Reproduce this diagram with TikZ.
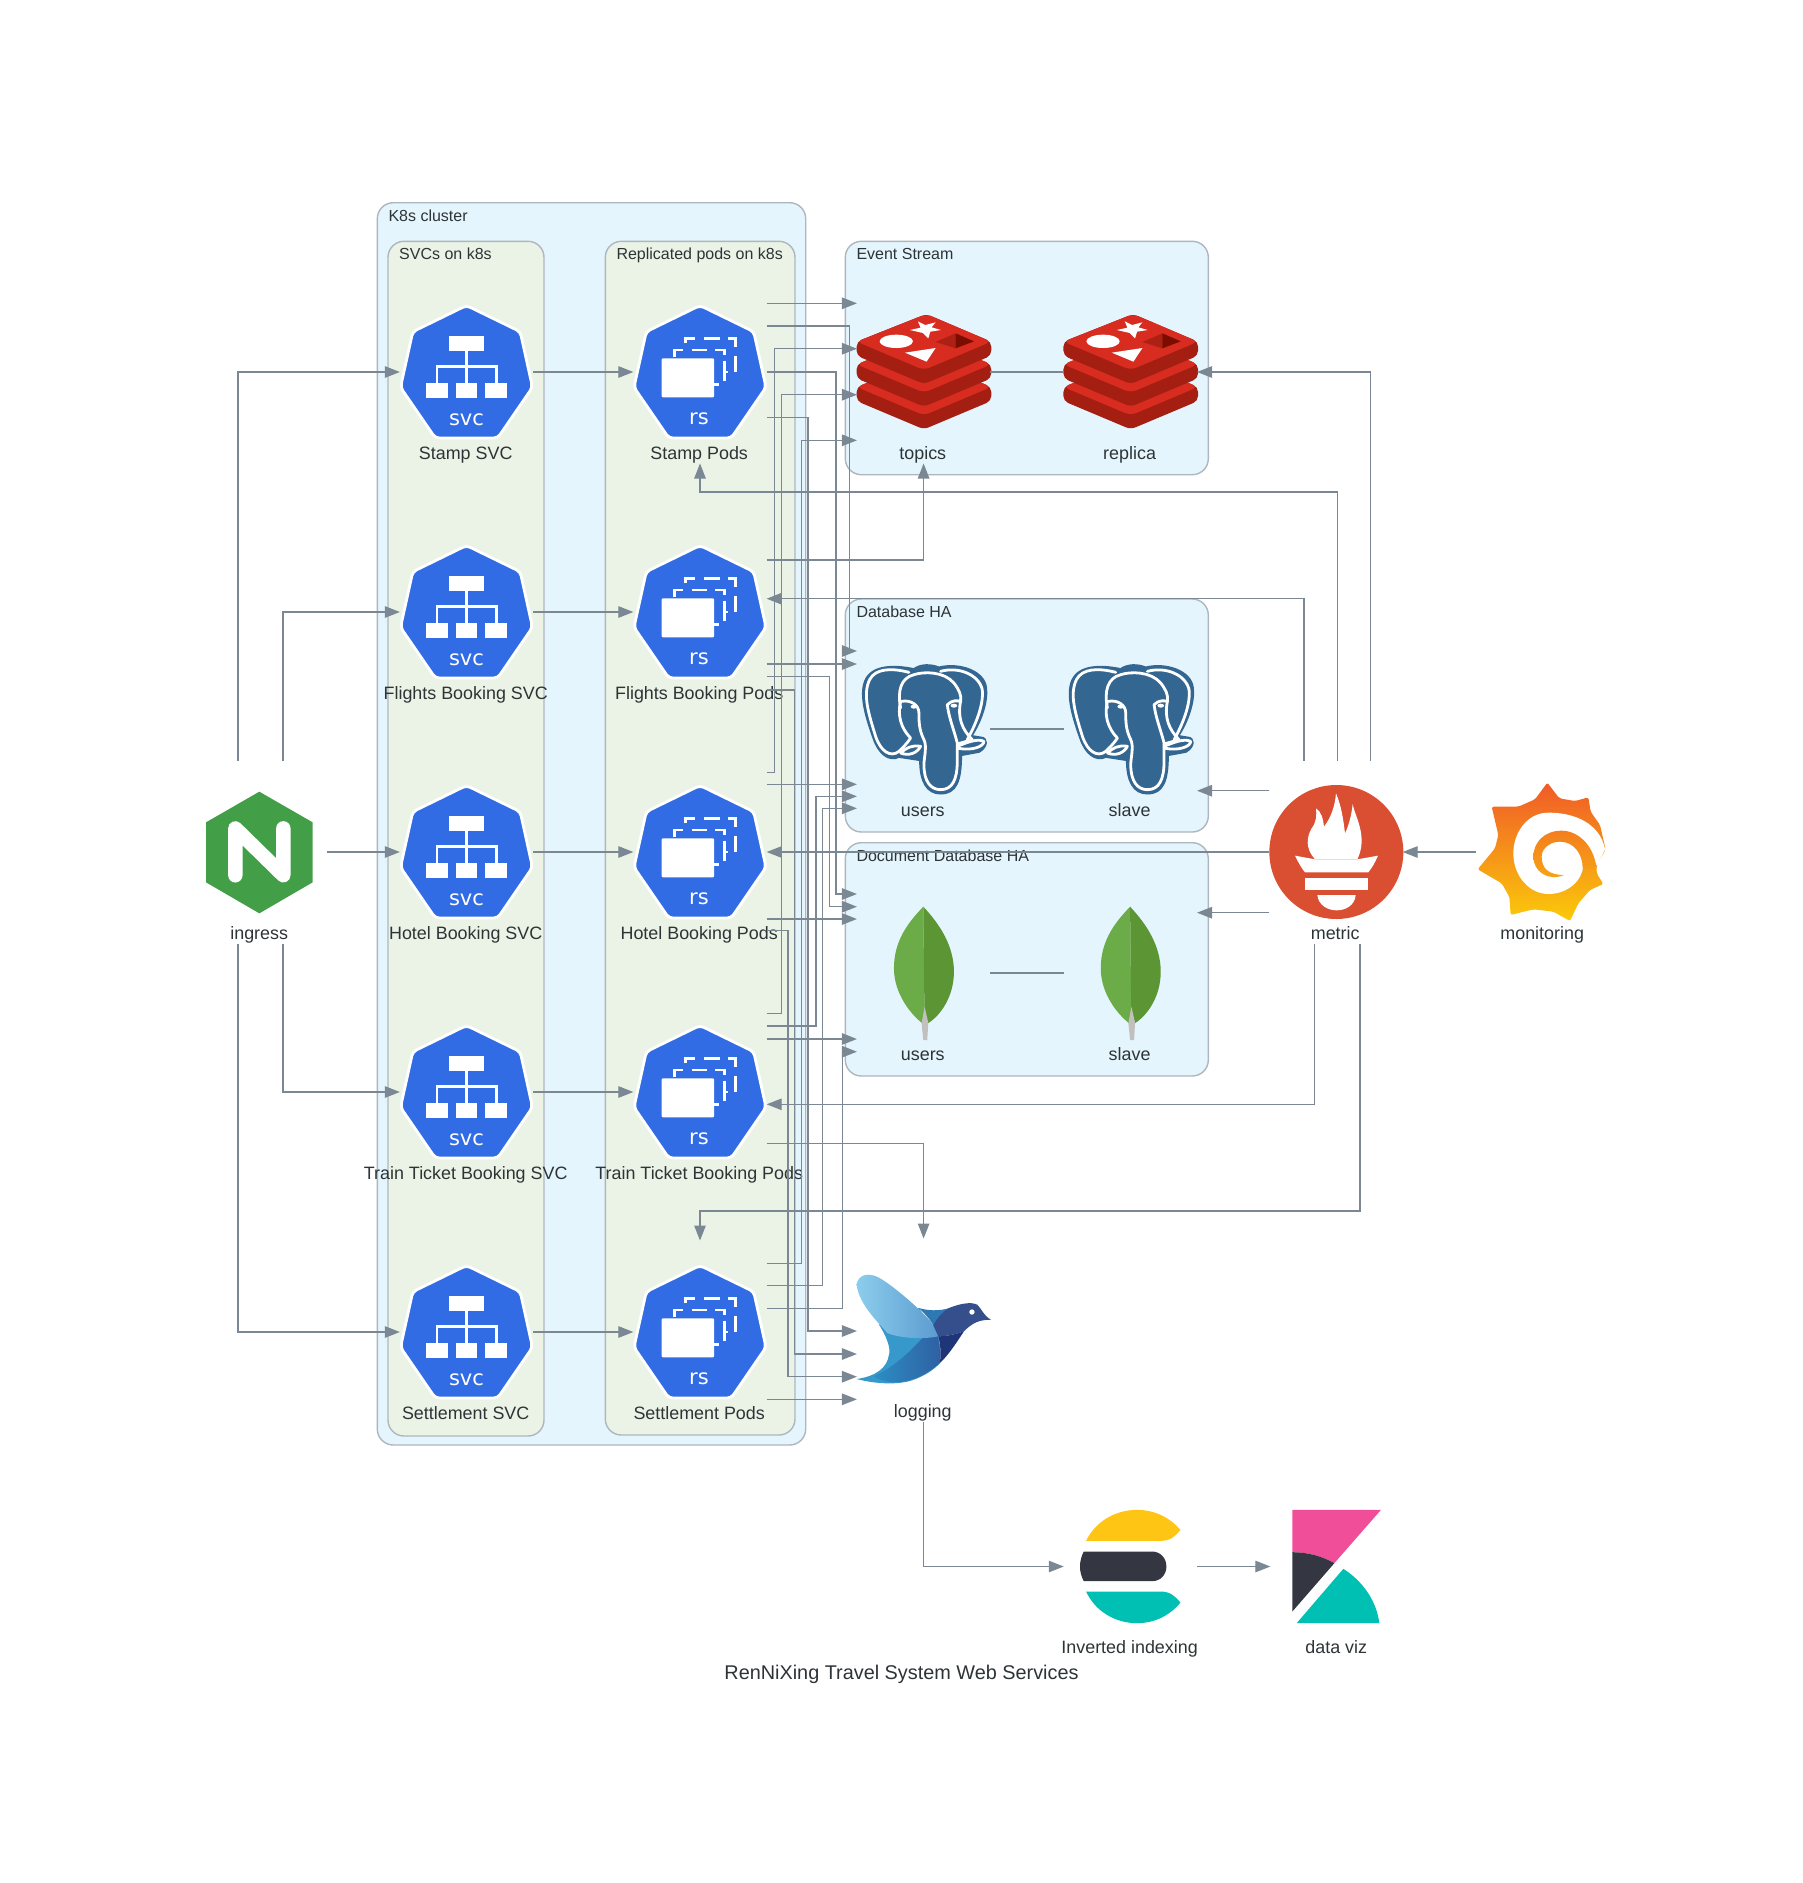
\documentclass[tikz,border=0pt]{standalone}
\usepackage{fontspec}
\setmainfont{Liberation Sans}
\newfontfamily\iconfont{DejaVu Sans}
\usetikzlibrary{arrows.meta}

\definecolor{edgegray}{HTML}{7B8894}
\definecolor{clusterline}{HTML}{AEB6BE}
\definecolor{clusterblue}{HTML}{E5F5FD}
\definecolor{clustergreen}{HTML}{EBF3E7}
\definecolor{labelink}{HTML}{2D3436}
\definecolor{k8sblue}{HTML}{326CE5}
\definecolor{redislight}{HTML}{D82C20}
\definecolor{redisdark}{HTML}{A41E11}
\definecolor{redisfade}{HTML}{AD2115}
\definecolor{redisdeep}{HTML}{7A0C00}
\definecolor{pgblue}{HTML}{336791}
\definecolor{leaflight}{HTML}{6CAC48}
\definecolor{leafdark}{HTML}{5B9534}
\definecolor{leafstem}{HTML}{C2BFBF}
\definecolor{nginxgreen}{HTML}{429E47}
\definecolor{promred}{HTML}{DA4E31}
\definecolor{grafanatop}{HTML}{F05A28}
\definecolor{grafanabottom}{HTML}{FBCA0A}
\definecolor{birdlight}{HTML}{3798CC}
\definecolor{bellyleft}{HTML}{2D8EC4}
\definecolor{bellyright}{HTML}{2E60A3}
\definecolor{birdneck}{HTML}{2E78B4}
\definecolor{wingleft}{HTML}{8CCDED}
\definecolor{wingright}{HTML}{5B9BD0}
\definecolor{birdhead}{HTML}{354E8C}
\definecolor{birdbreast}{HTML}{1E3577}
\definecolor{elasticyellow}{HTML}{FEC514}
\definecolor{elasticdark}{HTML}{343741}
\definecolor{elasticteal}{HTML}{00BFB3}
\definecolor{kibanapink}{HTML}{F04E98}

\newcommand{\lbl}[1]{\makebox[133pt]{#1\hspace{1.6pt}}}
\newcommand{\redislayer}{%
  \fill[redisdark,rounded corners=5pt] (3,95) -- (212,12) -- (407,95) -- (407,137) -- (205,222) -- (3,137) -- cycle;
  \fill[redislight,rounded corners=6pt] (3,95) -- (212,12) -- (407,95) -- (205,180) -- cycle;
}
\newcommand{\heptagon}{%
  \draw[fill=k8sblue,draw=white,line width=2.8pt,rounded corners=4pt]
    (0,-66.5) -- (53.7,-40.3) -- (66,15.3) -- (31.2,66) -- (-31.2,66) -- (-66,15.3) -- (-53.7,-40.3) -- cycle;
}

\tikzset{
  iconbox/.style={minimum width=133.3pt,minimum height=183pt,inner sep=0pt,outer sep=0pt,
    text height=178pt,text depth=4pt,text=labelink,font=\fontsize{17.9}{20}\selectfont},
  clusterbox/.style={draw=clusterline,line width=1.4pt,rounded corners=16pt},
  clusterlabel/.style={anchor=base west,inner sep=0pt,text=labelink,font=\fontsize{16}{18}\selectfont},
  edge/.style={draw=edgegray,line width=1.2pt,-{Triangle[length=15pt,width=11.5pt]}},
  link/.style={draw=edgegray,line width=1.2pt},
  icontext/.style={inner sep=0pt,text=white,font=\iconfont\fontsize{21}{23}\selectfont},
  zoomed/.style 2 args={x=.3333pt,y=-.3333pt,shift={(-#1,-#2)}},
  svcicon/.pic={
    \heptagon
    \fill[white] (-17.3,-36.3) rectangle (17.3,-20.7);
    \fill[white] (-40.7,10.7) rectangle (-18.7,26);
    \fill[white] (-11,10.7) rectangle (10.7,26);
    \fill[white] (18.7,10.7) rectangle (40.7,26);
    \draw[white,line width=2.6pt] (0,-21) -- (0,11);
    \draw[white,line width=2.6pt] (-29.7,11) -- (-29.7,-5.3) -- (29.7,-5.3) -- (29.7,11);
    \node[icontext] (-t) at (0,48) {svc};
  },
  rsicon/.pic={
    \heptagon
    \fill[white,rounded corners=1pt] (-38.3,-13.7) rectangle (14,25.3);
    \draw[white,line width=2.6pt] (-25.7,-15.3) -- (-25.7,-22) -- (-17.3,-22);
    \draw[white,line width=2.6pt] (-8.3,-22) -- (6.7,-22);
    \draw[white,line width=2.6pt] (15,-22) -- (24.3,-22) -- (24.3,-17);
    \draw[white,line width=2.6pt] (24.3,-11.3) -- (24.3,8.7);
    \draw[white,line width=2.6pt] (24.3,0) -- (28,0);
    \draw[white,line width=2.6pt] (14,12.3) -- (19.3,12.3);
    \draw[white,line width=2.6pt] (-14.3,-28.7) -- (-14.3,-33.7) -- (-5,-33.7);
    \draw[white,line width=2.6pt] (4.3,-33.7) -- (20,-33.7);
    \draw[white,line width=2.6pt] (28.3,-33.7) -- (35.7,-33.7) -- (35.7,-25.3);
    \draw[white,line width=2.6pt] (35.7,-16.3) -- (35.7,0);
    \node[icontext] (-t) at (-1,47) {rs};
  },
  redisicon/.pic={
    \begin{scope}[zoomed={204}{186}]
    \begin{scope}[shift={(0,136)}]\redislayer\end{scope}
    \begin{scope}[shift={(0,68)}]\redislayer\end{scope}
    \redislayer
    \fill[white] (187,34) -- (209,45) -- (240,37) -- (228,52) -- (256,60) -- (224,65) -- (218,85) -- (202,69) -- (163,60) -- (195,53) -- cycle;
    \fill[white] (122,94) ellipse [x radius=50,y radius=20];
    \fill[white] (148,128) -- (240,114) -- (213,155) -- cycle;
    \fill[redisfade] (240,96) -- (300,70) -- (300,115) -- cycle;
    \fill[redisdeep] (300,70) -- (355,94) -- (300,115) -- cycle;
    \end{scope}
  },
  pgicon/.pic={
    \begin{scope}[zoomed={204}{213}]
    \draw[pgblue,fill=pgblue,line width=3pt,line join=round]
      (175,35) .. controls (130,25) and (60,20) .. (35,60)
      .. controls (10,100) and (30,170) .. (55,240)
      .. controls (70,285) and (100,310) .. (130,295)
      -- (195,305)
      .. controls (195,370) and (215,405) .. (255,405)
      .. controls (300,405) and (315,370) .. (315,290)
      -- (370,280) .. controls (395,265) and (395,240) .. (375,240)
      -- (345,235) .. controls (375,190) and (395,130) .. (390,90)
      .. controls (385,40) and (310,15) .. (250,30)
      .. controls (225,20) and (195,20) .. (175,35) -- cycle;
    \begin{scope}[white,line width=2.8pt,line cap=round,line join=round]
    \draw (160,43) .. controls (110,30) and (60,30) .. (42,65)
      .. controls (20,110) and (40,170) .. (60,235)
      .. controls (75,280) and (105,300) .. (130,280)
      .. controls (140,270) and (150,262) .. (165,240)
      .. controls (135,210) and (125,170) .. (135,130);
    \draw (255,40) .. controls (310,25) and (370,50) .. (380,95)
      .. controls (385,140) and (360,200) .. (335,245);
    \draw (135,150) .. controls (125,100) and (135,60) .. (175,50)
      .. controls (205,40) and (265,40) .. (295,75)
      .. controls (310,95) and (318,110) .. (315,130)
      .. controls (305,180) and (320,215) .. (350,245) -- (305,258);
    \draw (138,130) .. controls (165,125) and (190,140) .. (190,165)
      .. controls (190,190) and (190,215) .. (205,245)
      .. controls (215,265) and (205,300) .. (205,320)
      .. controls (205,370) and (225,395) .. (255,395)
      .. controls (290,395) and (305,365) .. (305,310)
      .. controls (305,280) and (305,265) .. (305,255)
      .. controls (295,215) and (280,180) .. (275,140)
      .. controls (290,125) and (305,128) .. (315,130);
    \draw (135,285) .. controls (160,295) and (185,285) .. (195,265)
      .. controls (170,260) and (150,270) .. (135,285);
    \draw (305,265) .. controls (330,255) and (365,240) .. (385,250)
      .. controls (385,265) and (350,280) .. (305,270);
    \end{scope}
    \fill[white] (175,146) ellipse [x radius=10,y radius=6];
    \fill[white] (295,143) ellipse [x radius=10,y radius=6];
    \end{scope}
  },
  mongoicon/.pic={
    \begin{scope}[zoomed={549}{759}]
    \fill[leaflight] (548,560) .. controls (505,605) and (460,660) .. (460,745)
      .. controls (460,820) and (510,885) .. (552,915) -- cycle;
    \fill[leafdark] (548,560) .. controls (600,615) and (640,680) .. (640,755)
      .. controls (640,830) and (600,885) .. (565,908) -- (552,915) -- cycle;
    \fill[leafstem] (552,860) -- (543,910) -- (548,960) -- (560,960) -- (563,908) -- cycle;
    \end{scope}
  },
  nginxicon/.pic={
    \begin{scope}[zoomed={210}{246}]
    \fill[nginxgreen] (208,65) -- (368,157) -- (368,337) -- (208,430) -- (48,337) -- (48,157) -- cycle;
    \draw[white,line width=14.4pt,line cap=round,line join=round] (136,316) -- (136,175) -- (280,316) -- (280,175);
    \end{scope}
  },
  promicon/.pic={
    \begin{scope}[zoomed={288}{336}]
    \fill[promred] (289,336) circle [radius=201];
    \fill[white] (195,415) rectangle (385,450);
    \fill[white] (232,465) -- (347,465) .. controls (345,495) and (318,511) .. (290,511) .. controls (262,511) and (235,495) .. (232,465) -- cycle;
    \fill[white] (165,347) -- (225,358) -- (352,358) -- (414,347) .. controls (405,368) and (395,385) .. (385,397) -- (195,397) .. controls (185,385) and (175,368) .. (165,347) -- cycle;
    \fill[white] (225,358) .. controls (195,325) and (200,290) .. (215,265)
      .. controls (230,245) and (230,225) .. (228,205)
      .. controls (245,215) and (250,240) .. (252,260)
      .. controls (275,230) and (285,195) .. (288,160)
      .. controls (305,200) and (310,240) .. (315,280)
      .. controls (325,260) and (335,225) .. (338,192)
      .. controls (345,230) and (385,290) .. (352,358) -- cycle;
    \end{scope}
  },
  grafanaicon/.pic={
    \begin{scope}[zoomed={909}{336}]
    \shade[top color=grafanatop,bottom color=grafanabottom,rounded corners=2pt] (922,128) -- (958,175) -- (1005,183) -- (1045,172) -- (1052,215) -- (1080,255) -- (1097,328) -- (1070,375) -- (1070,400) -- (1090,432) -- (1050,450) -- (1015,490) -- (990,543) -- (940,515) -- (880,508) -- (812,525) -- (808,470) -- (785,430) -- (713,388) -- (765,325) -- (775,285) -- (755,200) -- (835,200) -- (885,178) -- cycle;
    \fill[white] (1095,328) .. controls (1085,270) and (1030,218) .. (925,218)
      .. controls (860,218) and (820,280) .. (820,340)
      .. controls (820,410) and (870,462) .. (925,462)
      .. controls (985,462) and (1028,420) .. (1030,375) -- (1072,375) -- cycle;
    \shade[top color=grafanatop!68!grafanabottom,bottom color=grafanatop!32!grafanabottom] (1070,385) .. controls (1060,310) and (1010,272) .. (965,272)
      .. controls (910,272) and (880,310) .. (880,350)
      .. controls (880,395) and (925,425) .. (972,405)
      .. controls (925,405) and (905,385) .. (905,350)
      .. controls (905,325) and (930,305) .. (960,305)
      .. controls (1000,305) and (1028,340) .. (1028,385) -- cycle;
    \end{scope}
  },
  birdicon/.pic={
    \begin{scope}[zoomed={204}{186}]
    \fill[birdlight] (70,170) .. controls (100,215) and (105,250) .. (100,260)
      .. controls (95,300) and (60,325) .. (3,333)
      .. controls (60,348) and (130,352) .. (175,335)
      .. controls (210,322) and (235,305) .. (253,285)
      .. controls (255,260) and (255,230) .. (248,205) -- (190,120) -- cycle;
    \shade[left color=bellyleft,right color=bellyright] (233,172) .. controls (190,225) and (130,290) .. (55,325)
      .. controls (100,355) and (180,350) .. (253,285)
      .. controls (256,250) and (250,200) .. (233,172) -- cycle;
    \fill[birdneck] (190,120) .. controls (215,128) and (250,130) .. (282,120)
      -- (300,160) -- (250,210) -- (233,172) .. controls (225,155) and (205,135) .. (190,120) -- cycle;
    \shade[left color=wingleft,right color=wingright] (3,50) .. controls (5,25) and (35,5) .. (80,35)
      .. controls (120,60) and (190,120) .. (225,160)
      .. controls (240,180) and (250,195) .. (248,205)
      .. controls (200,215) and (130,210) .. (95,195)
      .. controls (70,165) and (10,110) .. (3,50) -- cycle;
    \fill[birdhead] (233,172) .. controls (245,150) and (260,132) .. (280,120)
      .. controls (310,108) and (345,100) .. (365,110)
      .. controls (380,125) and (385,145) .. (407,155)
      .. controls (370,155) and (350,165) .. (325,190)
      .. controls (305,197) and (275,205) .. (248,205) -- cycle;
    \fill[birdbreast] (248,205) .. controls (275,205) and (305,197) .. (325,190)
      .. controls (305,220) and (280,260) .. (253,285)
      .. controls (256,255) and (255,230) .. (248,205) -- cycle;
    \fill[white] (349,132) circle [radius=8];
    \end{scope}
  },
  elasticon/.pic={
    \begin{scope}[zoomed={270}{260}]
    \fill[elasticyellow] (137,183) .. controls (165,125) and (225,90) .. (290,90) .. controls (345,90) and (390,115) .. (420,150) .. controls (405,170) and (390,183) .. (360,183) -- cycle;
    \fill[elasticdark] (130,215) -- (335,215) .. controls (360,215) and (378,235) .. (378,260) .. controls (378,285) and (360,304) .. (335,304) -- (130,304) .. controls (115,275) and (115,245) .. (130,215) -- cycle;
    \fill[elasticteal] (137,335) -- (360,335) .. controls (390,335) and (405,350) .. (420,368) .. controls (390,405) and (345,430) .. (290,430) .. controls (225,430) and (165,395) .. (137,335) -- cycle;
    \end{scope}
  },
  kibanaicon/.pic={
    \begin{scope}[zoomed={891}{260}]
    \fill[kibanapink] (757,90) -- (1023,90) -- (883,250) .. controls (845,228) and (800,217) .. (757,217) -- cycle;
    \fill[elasticdark] (757,217) .. controls (800,217) and (845,228) .. (883,250) -- (757,395) -- cycle;
    \fill[elasticteal] (770,430) -- (910,267) .. controls (970,305) and (1010,365) .. (1018,430) -- cycle;
    \end{scope}
  }
}

\begin{document}
\begin{tikzpicture}[x=1pt,y=-1pt]
  \useasboundingbox (0,0) rectangle (1803,1883);

  % clusters
  \draw[clusterbox,fill=clusterblue] (377.3,202.7) rectangle (805.7,1445);
  \draw[clusterbox,fill=clustergreen] (388,241.3) rectangle (544,1436);
  \draw[clusterbox,fill=clustergreen] (605.3,241.3) rectangle (795,1435);
  \draw[clusterbox,fill=clusterblue] (845.3,241.3) rectangle (1208.3,474.7);
  \draw[clusterbox,fill=clusterblue] (845.3,599) rectangle (1208.3,832);
  \draw[clusterbox,fill=clusterblue] (845.3,842.7) rectangle (1208.3,1076);
  \node[clusterlabel] (k8slabel) at (388.3,221) {K8s cluster};
  \node[clusterlabel] (svclabel) at (399,259.4) {SVCs on k8s};
  \node[clusterlabel] (podlabel) at (616.3,259.4) {Replicated pods on k8s};
  \node[clusterlabel] (streamlabel) at (856.3,259.4) {Event Stream};
  \node[clusterlabel] (dblabel) at (856.3,617.3) {Database HA};
  \node[clusterlabel] (doclabel) at (856.3,861.3) {Document Database HA};

  % nodes
  \node[iconbox] (ingress) at (260,852) {\lbl{ingress}};
  \node[iconbox] (stampsvc) at (466.5,372) {\lbl{Stamp SVC}};
  \node[iconbox] (flightsvc) at (466.5,612) {\lbl{Flights Booking SVC}};
  \node[iconbox] (hotelsvc) at (466.5,852) {\lbl{Hotel Booking SVC}};
  \node[iconbox] (trainsvc) at (466.5,1092) {\lbl{Train Ticket Booking SVC}};
  \node[iconbox] (settlesvc) at (466.5,1332) {\lbl{Settlement SVC}};
  \node[iconbox] (stamppods) at (700,372) {\lbl{Stamp Pods}};
  \node[iconbox] (flightpods) at (700,612) {\lbl{Flights Booking Pods}};
  \node[iconbox] (hotelpods) at (700,852) {\lbl{Hotel Booking Pods}};
  \node[iconbox] (trainpods) at (700,1092) {\lbl{Train Ticket Booking Pods}};
  \node[iconbox] (settlepods) at (700,1332) {\lbl{Settlement Pods}};
  \node[iconbox] (topics) at (923.6,372) {\lbl{topics}};
  \node[iconbox] (replica) at (1130.4,372) {\lbl{replica}};
  \node[iconbox] (pgusers) at (923.6,729) {\lbl{users}};
  \node[iconbox] (pgslave) at (1130.4,729) {\lbl{slave}};
  \node[iconbox] (mongousers) at (923.6,973) {\lbl{users}};
  \node[iconbox] (mongoslave) at (1130.4,973) {\lbl{slave}};
  \node[iconbox] (metric) at (1336,852) {\lbl{metric}};
  \node[iconbox] (monitoring) at (1543,852) {\lbl{monitoring}};
  \node[iconbox] (logging) at (923.6,1330) {\lbl{logging}};
  \node[iconbox] (elastic) at (1130.4,1566.5) {\lbl{Inverted indexing}};
  \node[iconbox] (kibana) at (1337,1566.5) {\lbl{data viz}};
  \node[text=labelink,font=\fontsize{19.85}{22}\selectfont,inner sep=0pt] (title) at (901.5,1674) {RenNiXing Travel System Web Services};

  % icons
  \pic at (ingress) {nginxicon};
  \pic (stampsvcicon) at (stampsvc) {svcicon};
  \pic (flightsvcicon) at (flightsvc) {svcicon};
  \pic (hotelsvcicon) at (hotelsvc) {svcicon};
  \pic (trainsvcicon) at (trainsvc) {svcicon};
  \pic (settlesvcicon) at (settlesvc) {svcicon};
  \pic (stamppodsicon) at (stamppods) {rsicon};
  \pic (flightpodsicon) at (flightpods) {rsicon};
  \pic (hotelpodsicon) at (hotelpods) {rsicon};
  \pic (trainpodsicon) at (trainpods) {rsicon};
  \pic (settlepodsicon) at (settlepods) {rsicon};
  \pic at (topics) {redisicon};
  \pic at (replica) {redisicon};
  \pic at (pgusers) {pgicon};
  \pic at (pgslave) {pgicon};
  \pic at (mongousers) {mongoicon};
  \pic at (mongoslave) {mongoicon};
  \pic at (metric) {promicon};
  \pic at (monitoring) {grafanaicon};
  \pic at (logging) {birdicon};
  \pic at (elastic) {elasticon};
  \pic at (kibana) {kibanaicon};

  % ingress
  \draw[edge] ([xshift=-22pt]ingress.north) |- (stampsvc.west);
  \draw[edge] ([xshift=23pt]ingress.north) |- (flightsvc.west);
  \draw[edge] (ingress) -- (hotelsvc);
  \draw[edge] ([xshift=23pt]ingress.south) |- (trainsvc.west);
  \draw[edge] ([xshift=-22pt]ingress.south) |- (settlesvc.west);

  % svc to pods
  \draw[edge] (stampsvc) -- (stamppods);
  \draw[edge] (flightsvc) -- (flightpods);
  \draw[edge] (hotelsvc) -- (hotelpods);
  \draw[edge] (trainsvc) -- (trainpods);
  \draw[edge] (settlesvc) -- (settlepods);

  % stamp pods
  \draw[edge] (stamppods.east |- 0,303.3) -- (topics.west |- 0,303.3);
  \draw[edge] (stamppods.east |- 0,326) -| (849.3,651) -- (pgusers.west |- 0,651);
  \draw[edge] (stamppods.east) -| (836,894) -- (mongousers.west |- 0,894);
  \draw[edge] (stamppods.east |- 0,417.7) -| (808,1331) -- (logging.west |- 0,1331);

  % flights pods
  \draw[edge] (flightpods.east |- 0,560) -| (topics.south);
  \draw[edge] (flightpods.east |- 0,664) -- (pgusers.west |- 0,664);
  \draw[edge] (flightpods.east |- 0,676.7) -| (829.3,906.7) -- (mongousers.west |- 0,906.7);
  \draw[edge] (flightpods.east |- 0,690) -| (794.3,1354) -- (logging.west |- 0,1354);

  % hotel pods
  \draw[edge] (hotelpods.east |- 0,772.3) -| (774.7,348.7) -- (topics.west |- 0,348.7);
  \draw[edge] (hotelpods.east |- 0,784.3) -- (pgusers.west |- 0,784.3);
  \draw[edge] (hotelpods.east |- 0,919) -- (mongousers.west |- 0,919);
  \draw[edge] (hotelpods.east |- 0,930.7) -| (788,1376.7) -- (logging.west |- 0,1376.7);

  % train pods
  \draw[edge] (trainpods.east |- 0,1013.3) -| (781.3,394.7) -- (topics.west |- 0,394.7);
  \draw[edge] (trainpods.east |- 0,1026) -| (816,796.3) -- (pgusers.west |- 0,796.3);
  \draw[edge] (trainpods.east |- 0,1039) -- (mongousers.west |- 0,1039);
  \draw[edge] (trainpods.east |- 0,1143.7) -| (logging.north);

  % settlement pods
  \draw[edge] (settlepods.east |- 0,1263.3) -| (801.7,440.3) -- (topics.west |- 0,440.3);
  \draw[edge] (settlepods.east |- 0,1285.7) -| (822.3,808.3) -- (pgusers.west |- 0,808.3);
  \draw[edge] (settlepods.east |- 0,1308.3) -| (842.7,1051.7) -- (mongousers.west |- 0,1051.7);
  \draw[edge] (settlepods.east |- 0,1399.3) -- (logging.west |- 0,1399.3);

  % replicas
  \draw[link] (topics) -- (replica);
  \draw[link] (pgusers) -- (pgslave);
  \draw[link] (mongousers) -- (mongoslave);

  % metric
  \draw[edge] ([xshift=34.7pt]metric.north) |- (replica.east);
  \draw[edge] ([xshift=1.5pt]metric.north) |- (stamppods.south |- 0,492) -- (stamppods.south);
  \draw[edge] ([xshift=-32pt]metric.north) |- (flightpods.east |- 0,598.7);
  \draw[edge] (metric.west |- 0,790.7) -- (pgslave.east |- 0,790.7);
  \draw[edge] (metric) -- (hotelpods);
  \draw[edge] (metric.west |- 0,912.7) -- (mongoslave.east |- 0,912.7);
  \draw[edge] ([xshift=-21.3pt]metric.south) |- (trainpods.east |- 0,1104.3);
  \draw[edge] ([xshift=24pt]metric.south) |- (settlepods.north |- 0,1211) -- (settlepods.north);
  \draw[edge] (monitoring) -- (metric);

  % logging
  \draw[edge] (logging.south) |- (elastic.west);
  \draw[edge] (elastic) -- (kibana);
\end{tikzpicture}
\end{document}
